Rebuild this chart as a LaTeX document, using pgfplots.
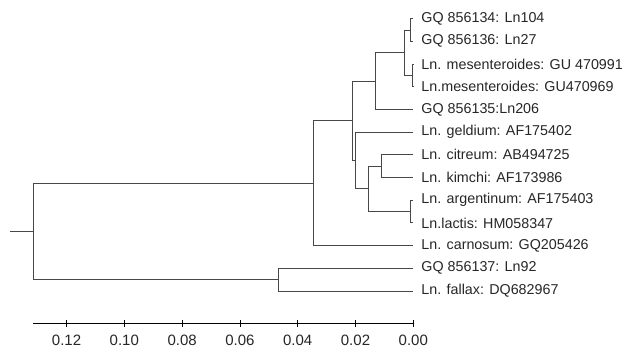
\documentclass[border=0pt]{standalone}
\usepackage{pgfplots}
\pgfplotsset{compat=1.18}
\usepackage{fontspec}
\setmainfont{Liberation Sans}
\begin{document}
\begin{tikzpicture}
\begin{axis}[
  scale only axis, width=380pt, height=323.3pt,
  xmin=0, xmax=0.1315, x dir=reverse,
  ymin=-0.42, ymax=13.82,
  axis x line*=bottom, axis y line=none,
  clip=false,
  xtick={0,0.02,0.04,0.06,0.08,0.10,0.12},
  scaled x ticks=false,
  xticklabel style={/pgf/number format/.cd, fixed, fixed zerofill, precision=2, assume math mode=true},
  ticklabel style={font=\fontsize{15}{17}\selectfont, yshift=-5pt, text=black!85},
  tick align=center, major tick length=6.7pt,
  tick style={black, line width=0.8pt},
  axis line style={black, line width=0.9pt},
  tree/.style={black!72, line width=0.9pt, mark=none, solid},
]
% clusters
\addplot[tree] coordinates {(0,13) (0.0011,13) (0.0011,12) (0,12)};
\addplot[tree] coordinates {(0,11) (0.0002,11) (0.0002,10) (0,10)};
\addplot[tree] coordinates {(0.0011,12.5) (0.0029,12.5) (0.0029,10.5) (0.0002,10.5)};
\addplot[tree] coordinates {(0.0029,11.5) (0.0132,11.5) (0.0132,9) (0,9)};
\addplot[tree] coordinates {(0,7) (0.0110,7) (0.0110,6) (0,6)};
\addplot[tree] coordinates {(0,5) (0.0011,5) (0.0011,4) (0,4)};
\addplot[tree] coordinates {(0.0110,6.5) (0.0156,6.5) (0.0156,4.5) (0.0011,4.5)};
\addplot[tree] coordinates {(0,8) (0.0199,8) (0.0199,5.5) (0.0156,5.5)};
\addplot[tree] coordinates {(0.0132,10.25) (0.0212,10.25) (0.0212,6.75) (0.0199,6.75)};
\addplot[tree] coordinates {(0.0212,8.5) (0.0345,8.5) (0.0345,3) (0,3)};
\addplot[tree] coordinates {(0,2) (0.0466,2) (0.0466,1) (0,1)};
\addplot[tree] coordinates {(0.0345,5.75) (0.1315,5.75) (0.1315,1.5) (0.0466,1.5)};
\addplot[tree] coordinates {(0.1315,3.625) (0.1396,3.625)};
% leaf labels
\addplot[draw=none, mark=none, nodes near coords, point meta=explicit symbolic,
  nodes near coords style={anchor=west, inner sep=0pt, xshift=8pt, text=black!85,
  font=\fontsize{14.3}{16}\selectfont}] coordinates {
  (0,13) [GQ 856134: Ln104]
  (0,12) [GQ 856136: Ln27]
  (0,11) [Ln. mesenteroides: GU 470991]
  (0,10) [Ln.mesenteroides: GU470969]
  (0,9) [GQ 856135:Ln206]
  (0,8) [Ln. geldium: AF175402]
  (0,7) [Ln. citreum: AB494725]
  (0,6) [Ln. kimchi: AF173986]
  (0,5) [Ln. argentinum: AF175403]
  (0,4) [Ln.lactis: HM058347]
  (0,3) [Ln. carnosum: GQ205426]
  (0,2) [GQ 856137: Ln92]
  (0,1) [Ln. fallax: DQ682967]
};
\end{axis}
\path ([xshift=-33.3pt,yshift=-27.7pt]current axis.south west) rectangle ++(629pt,351pt);
\end{tikzpicture}
\end{document}
